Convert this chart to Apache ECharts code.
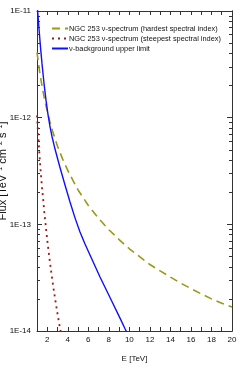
<!DOCTYPE html>
<html><head><meta charset="utf-8">
<script src="https://cdn.jsdelivr.net/npm/echarts@6/dist/echarts.min.js"></script>
<style>html,body{margin:0;padding:0;background:#fff}#c{width:249px;height:382px}</style>
</head><body><div id="c"></div>
<script>
// ---- data ----
const seriesNames = [
  'NGC 253 \u03bd-spectrum (hardest spectral index)',
  'NGC 253 \u03bd-spectrum (steepest spectral index)',
  '\u03bd-background upper limit'
];
const xTickValues = [2,3,4,5,6,7,8,9,10,11,12,13,14,15,16,17,18,19];
const xLabelValues = [2,4,6,8,10,12,14,16,18,20];
const yMajorValues = [1e-14,1e-13,1e-12,1e-11];
const yTickLabels = ['1E-14','1E-13','1E-12','1E-11'];
const yMinorValues = [2e-14,3e-14,4e-14,5e-14,6e-14,7e-14,8e-14,9e-14,
  2e-13,3e-13,4e-13,5e-13,6e-13,7e-13,8e-13,9e-13,
  2e-12,3e-12,4e-12,5e-12,6e-12,7e-12,8e-12,9e-12];

const hardE    = [1, 1.25, 1.5, 1.75, 2, 2.25, 2.5, 3, 3.5, 4, 4.5, 5, 5.5, 6, 7, 8, 9, 10,
  11, 12, 13, 14, 15, 16, 17, 18, 19, 20];
const hardFlux = [4.1e-12, 2.72e-12, 1.95e-12, 1.46e-12, 1.15e-12, 9.2e-13, 7.6e-13, 5.4e-13,
  4.09e-13, 3.2e-13, 2.58e-13, 2.1e-13, 1.78e-13, 1.5e-13, 1.14e-13, 8.9e-14, 7.2e-14, 5.9e-14,
  4.97e-14, 4.2e-14, 3.66e-14, 3.2e-14, 2.81e-14, 2.5e-14, 2.23e-14, 2.0e-14, 1.82e-14, 1.68e-14];

const steepE    = [1, 1.05, 1.1, 1.15, 1.2, 1.3, 1.4, 1.5, 1.6, 1.7, 1.8, 2.0, 2.2, 2.4, 2.6, 2.8, 3.0, 3.2, 3.4];
const steepFlux = [1.05e-12, 8.7e-13, 7.4e-13, 6.1e-13, 5.2e-13, 3.7e-13, 2.8e-13, 2.16e-13, 1.72e-13,
  1.33e-13, 1.08e-13, 7.1e-14, 4.9e-14, 3.5e-14, 2.55e-14, 1.9e-14, 1.45e-14, 1.12e-14, 8.9e-15];

const bgE    = [1.019, 1.068, 1.195, 1.341, 1.487, 1.682, 1.877, 2.072, 2.267, 2.462, 2.754, 3.241,
  3.728, 4.216, 4.703, 5.19, 5.677, 6.164, 7.139, 8.113, 9.088, 9.565, 9.769];
const bgFlux = [1.14e-11, 9.85e-12, 6.81e-12, 4.59e-12, 3.21e-12, 2.10e-12, 1.46e-12, 1.07e-12,
  8.26e-13, 6.66e-13, 5.08e-13, 3.41e-13, 2.34e-13, 1.62e-13, 1.15e-13, 8.47e-14, 6.54e-14,
  5.16e-14, 3.21e-14, 2.06e-14, 1.32e-14, 1.055e-14, 9.64e-15];

// ---- chart ----
const FONT = 'Liberation Sans, Arial, sans-serif';
const AX = '#333';
const pairs = (xs, ys) => xs.map((x, i) => [x, ys[i]]);
const labelFor = v => {
  const k = yMajorValues.findIndex(m => Math.abs(Math.log10(m) - Math.log10(v)) < 1e-6);
  return k >= 0 ? yTickLabels[k] : '';
};

function xAx(pos, showLabel) {
  return {
    type: 'value', position: pos, min: 1, max: 20,
    axisLine: { show: true, onZero: false, lineStyle: { color: AX, width: 1 } },
    axisTick: { show: true, inside: true, length: 4, customValues: xTickValues, lineStyle: { color: AX } },
    axisLabel: { show: showLabel, customValues: xLabelValues, fontSize: 8, margin: 5, color: '#111', fontFamily: FONT },
    splitLine: { show: false },
    name: showLabel ? 'E [TeV]' : '', nameLocation: 'middle', nameGap: 24,
    nameTextStyle: { fontSize: 8, color: '#111', fontFamily: FONT }
  };
}
function yAx(pos, minor, showLabel) {
  return {
    type: 'log', logBase: 10, position: pos, min: 1e-14, max: 1e-11,
    axisLine: { show: true, onZero: false, lineStyle: { color: AX, width: 1 } },
    axisTick: { show: true, inside: true, length: minor ? 3 : 5,
      customValues: minor ? yMinorValues : yMajorValues, lineStyle: { color: AX } },
    axisLabel: { show: showLabel, customValues: yMajorValues, formatter: labelFor,
      fontSize: 8, margin: 6, color: '#111', fontFamily: FONT },
    splitLine: { show: false }, minorTick: { show: false }
  };
}

const chart = echarts.init(document.getElementById('c'), null, { renderer: 'canvas' });
chart.setOption({
  animation: false,
  backgroundColor: '#fff',
  grid: { left: 37, right: 17, top: 11, bottom: 51, containLabel: false },
  xAxis: [xAx('bottom', true), xAx('top', false)],
  yAxis: [yAx('left', false, true), yAx('left', true, false), yAx('right', false, false), yAx('right', true, false)],
  legend: {
    orient: 'vertical', left: 51, top: 25, padding: 0, itemWidth: 16, itemHeight: 8, itemGap: 3,
    itemStyle: { opacity: 0, borderWidth: 0 },
    textStyle: { fontSize: 7.4, fontFamily: FONT, color: '#111', padding: [0,0,0,-4] },
    data: seriesNames
  },
  graphic: [{
    type: 'text', x: 2.5, y: 171, rotation: Math.PI / 2,
    style: {
      text: 'Flux [TeV{s|\u22121} cm{s|\u22122} s{s|\u22121}]',
      fontSize: 11, fontFamily: FONT, fill: '#111', align: 'center', verticalAlign: 'middle',
      rich: { s: { fontSize: 7, verticalAlign: 'top', fontFamily: FONT, fill: '#111' } }
    }
  }],
  series: [
    { name: seriesNames[0], type: 'line', data: pairs(hardE, hardFlux), symbol: 'none', clip: true,
      itemStyle: { color: '#9a9a16' }, lineStyle: { color: '#9a9a16', width: 1.6, type: [8, 5] } },
    { name: seriesNames[1], type: 'line', data: pairs(steepE, steepFlux), symbol: 'none', clip: true,
      itemStyle: { color: '#a01818' }, lineStyle: { color: '#a01818', width: 1.8, type: [2, 4] } },
    { name: seriesNames[2], type: 'line', data: pairs(bgE, bgFlux), symbol: 'none', clip: true,
      itemStyle: { color: '#1010ff' }, lineStyle: { color: '#1010ff', width: 1.4 } }
  ]
});
</script></body></html>
